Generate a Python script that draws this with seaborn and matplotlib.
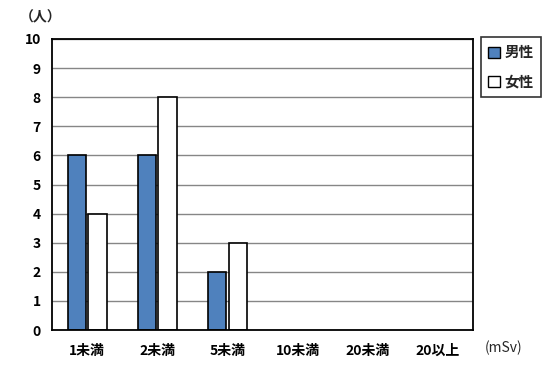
import matplotlib
matplotlib.use("Agg")
import matplotlib.pyplot as plt
from matplotlib.patches import Patch
import seaborn as sns
import pandas as pd

categories = ["1未満", "2未満", "5未満", "10未満", "20未満", "20以上"]
male = [6, 6, 2, 0, 0, 0]
female = [4, 8, 3, 0, 0, 0]
series = ["男性", "女性"]
colors = ["#4F81BD", "#FFFFFF"]

df = pd.DataFrame({
    "cat": categories * 2,
    "val": male + female,
    "sex": [series[0]] * len(categories) + [series[1]] * len(categories),
})

sns.set_theme(style="white")
plt.rcParams["font.family"] = ["Noto Sans CJK JP", "DejaVu Sans"]

fig = plt.figure(figsize=(5.53, 3.72), dpi=100)
ax = fig.add_axes([52/553, 1-330/372, (473-52)/553, (330-39)/372])

sns.barplot(data=df, x="cat", y="val", hue="sex", order=categories,
            hue_order=series, palette=colors, saturation=1,
            width=0.59, gap=0.12, edgecolor="black", linewidth=1.2,
            ax=ax, legend=False)

# hide zero-height bars
for p in ax.patches:
    if p.get_height() == 0:
        p.set_visible(False)

ax.set_ylim(0, 10)
ax.set_yticks(range(0, 11))
ax.set_xlim(-0.5, len(categories) - 0.5)
ax.yaxis.grid(True, color="#868686", linewidth=1)
ax.set_axisbelow(True)
for s in ax.spines.values():
    s.set_visible(True)
    s.set_color("black")
    s.set_linewidth(1.3)
ax.set_xlabel("")
ax.set_ylabel("")
ax.tick_params(axis="both", length=0, labelsize=10, colors="black")
ax.tick_params(axis="x", pad=10)
ax.tick_params(axis="y", pad=8)
for t in ax.get_xticklabels() + ax.get_yticklabels():
    t.set_fontweight("bold")

fig.text(20/553, 1-17/372, "（人）", fontsize=10, fontweight="bold", va="center", ha="left")
fig.text(485/553, 1-348/372, "(mSv)", fontsize=10, va="center", ha="left")

handles = [Patch(facecolor=c, edgecolor="black", linewidth=1.0) for c in colors]
leg = ax.legend(handles, series, loc="upper left", bbox_to_anchor=(481/553, 1-37/372),
                bbox_transform=fig.transFigure, frameon=True, fancybox=False,
                edgecolor="black", fontsize=10.5, handlelength=0.8, handleheight=0.8,
                handletextpad=0.3, labelspacing=0.9, borderpad=0.5, borderaxespad=0)
leg.get_frame().set_linewidth(1.2)
for t in leg.get_texts():
    t.set_fontweight("bold")

fig.savefig("out.png", dpi=100)
